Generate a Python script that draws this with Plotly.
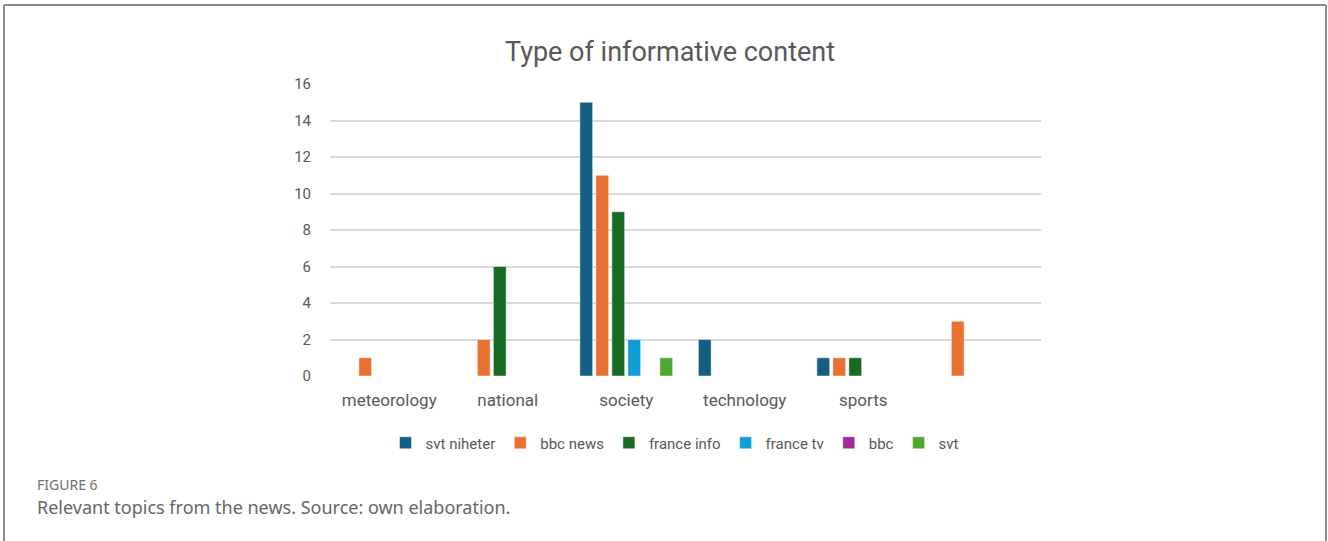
import plotly.graph_objects as go

categories = ["meteorology", "national", "society", "technology", "sports", " "]
svt_niheter = [0, 0, 15, 2, 1, 0]
bbc_news = [1, 2, 11, 0, 1, 3]
france_info = [0, 6, 9, 0, 1, 0]
france_tv = [0, 0, 2, 0, 0, 0]
bbc = [0, 0, 0, 0, 0, 0]
svt = [0, 0, 1, 0, 0, 0]

series = [
    ("svt niheter", svt_niheter, "#156082"),
    ("bbc news", bbc_news, "#E97132"),
    ("france info", france_info, "#196B24"),
    ("france tv", france_tv, "#0F9ED5"),
    ("bbc", bbc, "#A02B93"),
    ("svt", svt, "#4EA72E"),
]

W, H = 1328, 541
ML, MR, MT, MB = 330, W - 1041, 84, H - 376
PW, PH = W - ML - MR, H - MT - MB

def px(x):
    return (x - ML) / PW

def py(y):
    return (H - MB - y) / PH

fig = go.Figure()
for name, vals, col in series:
    fig.add_trace(go.Bar(
        name=name, x=categories, y=[v if v else None for v in vals],
        marker=dict(color=col, line=dict(color="rgba(255,255,255,0.6)", width=0.8)),
    ))

GRAY = "#595959"
fig.update_layout(
    width=W, height=H,
    margin=dict(l=ML, r=MR, t=MT, b=MB),
    paper_bgcolor="white", plot_bgcolor="white",
    barmode="group", bargap=0.19, bargroupgap=0.2,
    font=dict(family="Roboto, Arial, sans-serif", color=GRAY),
    xaxis=dict(type="category", showgrid=False, showline=False, zeroline=False,
               ticks="", tickfont=dict(size=17, color=GRAY), ticklabelstandoff=12),
    yaxis=dict(range=[0, 16], dtick=2, showgrid=True, gridcolor="#d9d9d9", gridwidth=1.5,
               zeroline=False, showline=False, ticks="",
               tickfont=dict(size=15, color=GRAY), ticklabelstandoff=18),
    legend=dict(orientation="h", x=px(675), xanchor="center", y=py(443), yanchor="middle",
                font=dict(size=15, color=GRAY), itemwidth=30, traceorder="normal"),
    showlegend=True,
)

fig.add_annotation(text="Type of informative content", xref="paper", yref="paper",
                   x=px(670), y=py(52), xanchor="center", yanchor="middle", showarrow=False,
                   font=dict(size=27, color=GRAY, family="Roboto, Arial, sans-serif"))
fig.add_annotation(text="FIGURE 6", xref="paper", yref="paper",
                   x=px(35), y=py(484), xanchor="left", yanchor="middle", showarrow=False,
                   font=dict(size=14, color="#707070", family="Noto Sans, Open Sans, sans-serif"))
fig.add_annotation(text="Relevant topics from the news. Source: own elaboration.", xref="paper", yref="paper",
                   x=px(35), y=py(507), xanchor="left", yanchor="middle", showarrow=False,
                   font=dict(size=18, color="#666666", family="Noto Sans, Open Sans, sans-serif"))

# outer frame (top, left, right)
frame = dict(color="#8c8c8c", width=2)
fig.add_shape(type="line", xref="paper", yref="paper", x0=px(4), x1=px(1326), y0=py(5), y1=py(5), line=frame)
fig.add_shape(type="line", xref="paper", yref="paper", x0=px(4), x1=px(4), y0=py(5), y1=py(541), line=frame)
fig.add_shape(type="line", xref="paper", yref="paper", x0=px(1326), x1=px(1326), y0=py(5), y1=py(541), line=frame)

fig.write_html("out.html")
